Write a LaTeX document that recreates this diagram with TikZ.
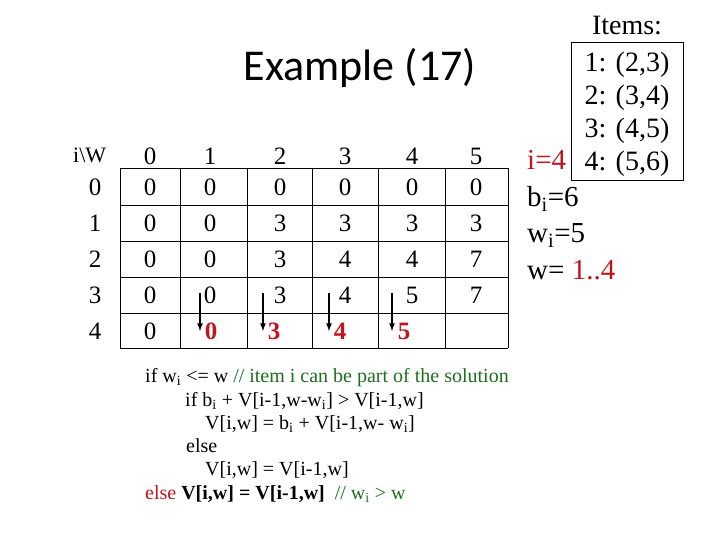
\documentclass[tikz,border=0pt]{standalone}
\usepackage{fontspec}
\setmainfont{Liberation Serif}
\newfontfamily\titlefont{Carlito}
\definecolor{dred}{RGB}{192,20,30}
\definecolor{dgreen}{RGB}{30,110,30}
\begin{document}
\begin{tikzpicture}[x=1pt,y=-1pt,
  cell/.style={font=\fontsize{25}{25}\selectfont,anchor=center,inner sep=0pt},
  rcell/.style={cell,text=dred,font=\bfseries\fontsize{25}{25}\selectfont},
  code/.style={font=\fontsize{20}{20}\selectfont,anchor=base west,inner sep=0pt},
  side/.style={font=\fontsize{29}{29}\selectfont,anchor=base west,inner sep=0pt},
  item/.style={font=\fontsize{28}{28}\selectfont,anchor=base,inner sep=0pt},
  arr/.style={-latex,line width=1.6pt}]
\useasboundingbox (0,0) rectangle (720,540);
\node[font=\titlefont\fontsize{44}{44}\selectfont] (title) at (360,68) {Example (17)};
% grid
\foreach \x in {120,180,247,312,378,445,508} \draw[thin] (\x,168) -- (\x,348);
\foreach \y in {168,205,241,277,313,348} \draw[thin] (120,\y) -- (508,\y);
\node[cell,anchor=base west,font=\fontsize{22}{22}\selectfont] (hdr) at (73,163) {i\textbackslash W};
\foreach \c [count=\k from 0] in {150,210,280,345,412,476} \node[cell] (h\k) at (\c,156) {\k};
\foreach \r [count=\k from 0] in {187,223,259,295,331} \node[cell] (r\k) at (95,\r) {\k};
\foreach \row [count=\i from 0] in {{0,0,0,0,0,0},{0,0,3,3,3,3},{0,0,3,4,4,7},{0,0,3,4,5,7}}{
  \foreach \v [count=\j from 0] in \row {
    \pgfmathsetmacro\cx{{150,210,280,345,412,476}[\j]}
    \pgfmathsetmacro\cy{{187,223,259,295}[\i]}
    \node[cell] (c\i\j) at (\cx,\cy) {\v};}}
\node[cell] (c40) at (150,331) {0};
\node[rcell] (c41) at (211,331) {0};
\node[rcell] (c42) at (274,331) {3};
\node[rcell] (c43) at (340,331) {4};
\node[rcell] (c44) at (404,331) {5};
\foreach \k/\x in {1/200,2/263,3/329,4/392}{
  \coordinate (a\k) at (\x,293); \coordinate (b\k) at (\x,331);
  \draw[arr] (a\k) -- (b\k);}
% items
\node[item] (items) at (627,35) {Items:};
\draw (571,42) rectangle (683,180);
\node[item] (it1) at (627,72) {1: (2,3)};
\node[item] (it2) at (627,105) {2: (3,4)};
\node[item] (it3) at (627,138) {3: (4,5)};
\node[item] (it4) at (627,171) {4: (5,6)};
\node[side,text=dred] (iv) at (527,170) {i=4};
\node[side] (bi) at (527,207) {b\textsubscript{i}=6};
\node[side] (wi) at (527,243) {w\textsubscript{i}=5};
\node[side] (wv) at (527,279) {w= \textcolor{dred}{1..4}};
% code
\node[code] (l1) at (145,382) {if w\textsubscript{i} <= w \textcolor{dgreen}{// item i can be part of the solution}};
\node[code] (l2) at (185,406) {if b\textsubscript{i} + V[i-1,w-w\textsubscript{i}] > V[i-1,w]};
\node[code] (l3) at (205,429) {V[i,w] = b\textsubscript{i} + V[i-1,w- w\textsubscript{i}]};
\node[code] (l4) at (186,452) {else};
\node[code] (l5) at (205,475) {V[i,w] = V[i-1,w]};
\node[code] (l6) at (145,499) {\textcolor{dred}{else} \textbf{V[i,w] = V[i-1,w]}\ \ \textcolor{dgreen}{// w\textsubscript{i} > w}};
\end{tikzpicture}
\end{document}
